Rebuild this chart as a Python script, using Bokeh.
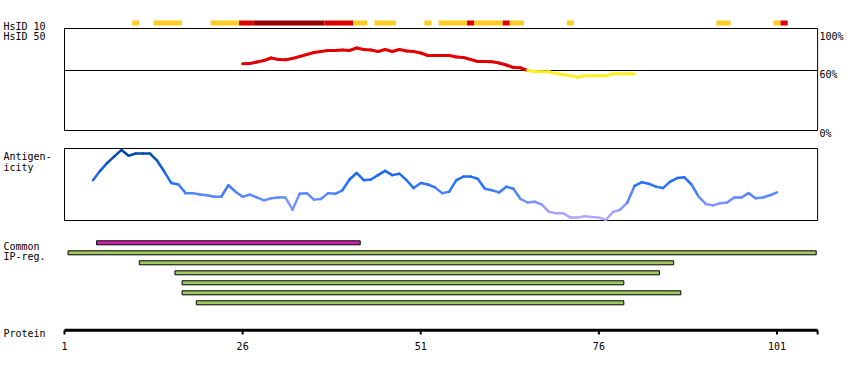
import numpy as np
from bokeh.plotting import figure
from bokeh.models import Range1d, ColumnDataSource
from bokeh.transform import linear_cmap
from bokeh.core.properties import value
from bokeh.embed import file_html
from bokeh.resources import INLINE

# ---------------- data ----------------
PROTEIN_END = 106.7
tick_positions = [1, 26, 51, 76, 101]
tick_labels = ["1", "26", "51", "76", "101"]

# HsID 10 track: (first residue, last residue, level)
hsid10_start = [11, 14, 22, 26, 28, 38, 42, 45, 52, 54, 58, 59, 63, 64, 72, 93, 101, 102]
hsid10_end   = [11, 17, 25, 27, 37, 41, 43, 47, 52, 57, 58, 62, 63, 65, 72, 94, 101, 102]
hsid10_level = ["low", "low", "low", "mid", "high", "mid", "low", "low", "low", "low",
                "mid", "low", "mid", "low", "low", "low", "low", "mid"]

# HsID 50 (% identity)
hsid50_res = list(range(26, 82))
hsid50_pct = [66.7, 67, 68.5, 70, 72.5, 71, 70.7, 72, 74, 76, 78, 79, 80, 80, 80.5, 80,
              82.5, 81, 80.5, 79, 81, 79, 81, 79.5, 79, 77.5, 75, 75, 75, 75, 73.5, 73,
              71, 69, 69, 68.7, 67.5, 65.5, 63, 62.7, 60, 59, 58.7, 58.7, 57, 55.7, 55,
              53.3, 54.7, 54.7, 54.7, 54.7, 56.7, 56.7, 56.7, 56.7]
hsid50_threshold = 60
pct_labels = ["100%", "60%", "0%"]
pct_label_values = [100, 60, 0]

# Antigenicity (relative score)
ant_res = list(range(5, 102))
ant_val = [0.56, 0.69, 0.80, 0.89, 0.98, 0.90, 0.93, 0.93, 0.93, 0.83,
           0.68, 0.52, 0.50, 0.38, 0.38, 0.36, 0.35, 0.33, 0.33, 0.49,
           0.40, 0.33, 0.36, 0.32, 0.28, 0.31, 0.32, 0.32, 0.15, 0.37,
           0.38, 0.29, 0.30, 0.38, 0.37, 0.42, 0.57, 0.66, 0.56, 0.57,
           0.63, 0.69, 0.63, 0.65, 0.56, 0.45, 0.52, 0.50, 0.46, 0.38,
           0.40, 0.56, 0.61, 0.61, 0.58, 0.44, 0.42, 0.39, 0.47, 0.44,
           0.30, 0.25, 0.26, 0.22, 0.12, 0.10, 0.10, 0.04, 0.04, 0.06,
           0.05, 0.04, 0.01, 0.12, 0.15, 0.25, 0.48, 0.53, 0.51, 0.47,
           0.45, 0.54, 0.59, 0.60, 0.50, 0.33, 0.23, 0.21, 0.24, 0.25,
           0.32, 0.32, 0.38, 0.31, 0.32, 0.35, 0.39]

# Common IP-regions: row, first residue, last residue, kind
region_row   = [0, 1, 2, 3, 4, 5, 6]
region_start = [6, 2, 12, 17, 18, 18, 20]
region_end   = [42, 106, 86, 84, 79, 87, 79]
region_kind  = ["common", "ip", "ip", "ip", "ip", "ip", "ip"]

# ---------------- layout ----------------
W, H = 850, 370
FT, FB = 0, 370          # frame top / bottom in image pixels
X0PX, PXRES = 64, 7.125  # residue 1 at image x 64, px per residue


def xres(px):
    return 1 + (px - X0PX) / PXRES


def yrange(va, ya, vb, yb):
    k = (vb - va) / (yb - ya)
    return Range1d(start=va + (FB - ya) * k, end=va + (FT - ya) * k)


FONT = value("DejaVu Sans Mono")

p = figure(width=W, height=H, output_backend="svg", toolbar_location=None,
           x_range=Range1d(xres(0), xres(W)), y_range=yrange(0, 0, 1, 1),
           y_axis_location=None, x_axis_location=None,
           min_border_left=0, min_border_right=0, min_border_top=0,
           min_border_bottom=0, outline_line_color=None,
           background_fill_color="white", border_fill_color="white")
p.xgrid.visible = False
p.ygrid.visible = False
p.extra_y_ranges = {
    "pct": yrange(0, 130, 100, 30),
    "ant": yrange(0, 220, 1, 148),
    "row": yrange(0, 242.3, 1, 252.3),
}

# panel frames
p.quad(left=[1, 1], right=[PROTEIN_END, PROTEIN_END], top=[28, 148], bottom=[130, 220],
       fill_color=None, line_color="black", line_width=1)

# HsID 10 track
level_colors = {"low": "#ffcc22", "mid": "#dd0000", "high": "#990000"}
src10 = ColumnDataSource(dict(
    left=[s - 0.5 for s in hsid10_start], right=[e + 0.5 for e in hsid10_end],
    color=[level_colors[l] for l in hsid10_level]))
p.quad(left="left", right="right", top=20, bottom=25, fill_color="color",
       line_color=None, source=src10)

# HsID 50 threshold line + curve
p.segment(x0=[1], x1=[PROTEIN_END], y0=[hsid50_threshold], y1=[hsid50_threshold],
          line_color="black", line_width=1, y_range_name="pct")
r50 = np.array(hsid50_res, float)
v50 = np.array(hsid50_pct, float)
mean50 = (v50[:-1] + v50[1:]) / 2
src50 = ColumnDataSource(dict(x0=r50[:-1], x1=r50[1:], y0=v50[:-1], y1=v50[1:],
                              color=["#e00000" if m > hsid50_threshold else "#ffee22" for m in mean50]))
p.segment(x0="x0", y0="y0", x1="x1", y1="y1", line_color="color", line_width=3,
          line_cap="round", source=src50, y_range_name="pct")

# antigenicity
anchors_v = [0.0, 0.15, 0.3, 0.5, 0.7, 0.85, 1.0]
anchors_c = [(184, 170, 255), (160, 158, 255), (100, 140, 255), (40, 115, 255),
             (20, 100, 240), (10, 80, 180), (0, 70, 160)]
grid = np.linspace(0, 1, 101)
palette = []
for g in grid:
    rgb = [int(round(np.interp(g, anchors_v, [c[i] for c in anchors_c]))) for i in range(3)]
    palette.append("#%02x%02x%02x" % tuple(rgb))
ra = np.array(ant_res, float)
va = np.array(ant_val, float)
srcA = ColumnDataSource(dict(x0=ra[:-1], x1=ra[1:], y0=va[:-1], y1=va[1:],
                             v=(va[:-1] + va[1:]) / 2))
p.segment(x0="x0", y0="y0", x1="x1", y1="y1", source=srcA, y_range_name="ant",
          line_color=linear_cmap("v", palette, 0, 1), line_width=2.5, line_cap="round")

# regions
kind_colors = {"common": "#cc22aa", "ip": "#a0c860"}
srcR = ColumnDataSource(dict(
    left=[s - 0.5 for s in region_start], right=[e + 0.5 for e in region_end],
    top=[r - 0.2 for r in region_row], bottom=[r + 0.2 for r in region_row],
    color=[kind_colors[k] for k in region_kind]))
p.quad(left="left", right="right", top="top", bottom="bottom", fill_color="color",
       line_color="black", line_width=1, source=srcR, y_range_name="row")

# protein axis (line, ticks, tick labels)
AXIS_Y = 329.7
p.segment(x0=[1], x1=[PROTEIN_END], y0=[AXIS_Y], y1=[AXIS_Y], line_color="black",
          line_width=3)
tick_x = tick_positions + [PROTEIN_END]
p.segment(x0=tick_x, x1=tick_x, y0=[AXIS_Y] * len(tick_x), y1=[334] * len(tick_x),
          line_color="black", line_width=2)
p.text(x=tick_positions, y=[345] * len(tick_positions), text=tick_labels, text_font=FONT,
       text_font_size="10px", text_color="black", text_baseline="alphabetic",
       text_align="center")

# labels
lx = xres(3)
lab_text = ["HsID 10", "HsID 50", "Antigen-", "icity", "Common", "IP-reg.", "Protein"]
lab_y = [26, 36, 156, 167, 246, 256, 333]
p.text(x=[lx] * len(lab_text), y=lab_y, text=lab_text, text_font=FONT,
       text_font_size="10px", text_color="black", text_baseline="alphabetic",
       text_align="left")
p.text(x=[xres(819)] * 3, y=pct_label_values, text=pct_labels, text_font=FONT,
       text_font_size="10px", text_color="black", text_baseline="alphabetic",
       text_align="left", y_offset=[6, 4, 3], y_range_name="pct")

open("out.html", "w").write(file_html(p, INLINE))
